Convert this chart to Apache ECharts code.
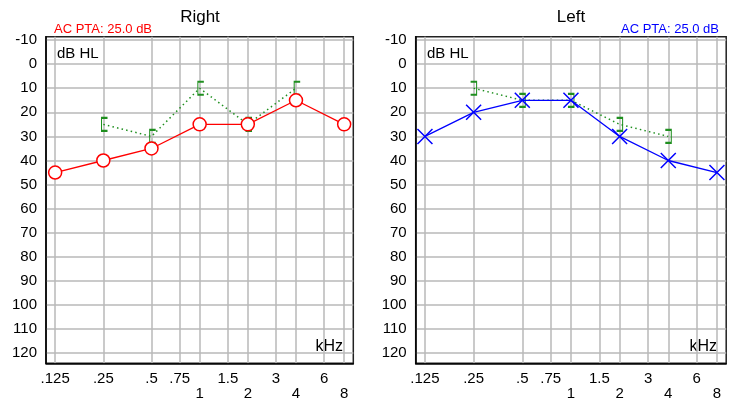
<!DOCTYPE html>
<html>
<head>
<meta charset="utf-8">
<script src="https://cdn.jsdelivr.net/npm/echarts@6/dist/echarts.min.js"></script>
<style>
  html, body { margin: 0; padding: 0; background: #fff; }
  #main { width: 750px; height: 415px; }
</style>
</head>
<body>
<div id="main"></div>
<script>
// audiogram data (kHz / dB HL)
var acFreqs = [0.125, 0.25, 0.5, 1, 2, 4, 8];
var bcFreqs = [0.25, 0.5, 1, 2, 4];
var rightAC = [45, 40, 35, 25, 25, 15, 25];
var rightBC = [25, 30, 10, 25, 10];
var leftAC = [30, 20, 15, 15, 30, 40, 45];
var leftBC = [10, 15, 15, 25, 30];

var xTickFreqs = [0.125, 0.25, 0.5, 0.75, 1, 1.5, 2, 3, 4, 6, 8];
var xTickLabels = ['.125', '.25', '.5', '.75', '1', '1.5', '2', '3', '4', '6', '8'];
var xLowerRow = ['1', '2', '4', '8'];
var yTicks = [-10, 0, 10, 20, 30, 40, 50, 60, 70, 80, 90, 100, 110, 120];

var FONT = '"Liberation Sans", Arial, sans-serif';
var GREEN = '#1f8f1f';

// frequency axis is drawn in octaves
function oct(f) { return Math.log2(f); }
function pairs(fs, vals) {
  return fs.map(function (f, i) { return [oct(f), vals[i]]; });
}

function xLabel(v) {
  var best = 0;
  xTickFreqs.forEach(function (f, i) {
    if (Math.abs(oct(f) - v) < Math.abs(oct(xTickFreqs[best]) - v)) best = i;
  });
  var t = xTickLabels[best];
  return xLowerRow.indexOf(t) >= 0 ? '\n' + t : t;
}

var gridLine = { show: true, lineStyle: { color: '#b8b8b8', width: 1.5 } };

function makeX(idx) {
  return {
    type: 'value', gridIndex: idx, min: -3.19, max: 3.19,
    axisLine: { show: true, onZero: false, lineStyle: { color: '#000', width: 1.5 } },
    axisTick: { show: false, customValues: xTickFreqs.map(oct) },
    splitLine: gridLine,
    axisLabel: {
      customValues: xTickFreqs.map(oct), formatter: xLabel,
      fontFamily: FONT, fontSize: 15, color: '#000', lineHeight: 15, margin: 8
    }
  };
}
function makeY(idx) {
  return {
    type: 'value', gridIndex: idx, inverse: true, min: -11.4, max: 124.2,
    axisLine: { show: true, onZero: false, lineStyle: { color: '#000', width: 1.5 } },
    axisTick: { show: false, customValues: yTicks },
    splitLine: gridLine,
    axisLabel: { customValues: yTicks, fontFamily: FONT, fontSize: 15, color: '#000', margin: 9 }
  };
}

var symX = 'path://M0,0L10,10M10,0L0,10';
var symOpen = 'path://M4,0L0,0L0,12L4,12';
var symClose = 'path://M0,0L4,0L4,12L0,12';

function acSeries(idx, data, color, symbol, size) {
  return {
    type: 'line', xAxisIndex: idx, yAxisIndex: idx, data: data,
    symbol: symbol, symbolSize: size, showAllSymbol: true, z: 4,
    lineStyle: { color: color, width: 1.3 },
    itemStyle: { color: symbol === 'circle' ? '#fff' : 'rgba(0,0,0,0)', borderColor: color, borderWidth: 1.5 }
  };
}
function bcSeries(idx, data, symbol, offset) {
  return {
    type: 'line', xAxisIndex: idx, yAxisIndex: idx, data: data,
    symbol: symbol, symbolSize: [6, 13], symbolOffset: [offset, 0], z: 3,
    lineStyle: { color: GREEN, width: 1.5, type: [1.5, 3.2] },
    itemStyle: { color: 'rgba(0,0,0,0)', borderColor: GREEN, borderWidth: 1.5 }
  };
}

function txt(x, y, text, size, color, align) {
  return {
    type: 'text', x: x, y: y, silent: true,
    style: { text: text, fontFamily: FONT, fontSize: size, fill: color, align: align || 'left', verticalAlign: 'middle' }
  };
}

var chart = echarts.init(document.getElementById('main'));
chart.setOption({
  animation: false,
  backgroundColor: '#fff',
  grid: [
    { left: 46, top: 36.7, width: 307.3, height: 326.6, show: true, borderColor: '#222', borderWidth: 1.5 },
    { left: 415.7, top: 36.7, width: 310.5, height: 326.6, show: true, borderColor: '#222', borderWidth: 1.5 }
  ],
  xAxis: [makeX(0), makeX(1)],
  yAxis: [makeY(0), makeY(1)],
  graphic: [
    txt(200, 17, 'Right', 17, '#000', 'center'),
    txt(571, 17, 'Left', 17, '#000', 'center'),
    txt(54, 29, 'AC PTA: 25.0 dB', 13, '#ff0000'),
    txt(719, 29, 'AC PTA: 25.0 dB', 13, '#0000ff', 'right'),
    txt(57, 54, 'dB HL', 15, '#000'),
    txt(427, 54, 'dB HL', 15, '#000'),
    txt(343, 347, 'kHz', 16, '#000', 'right'),
    txt(717, 347, 'kHz', 16, '#000', 'right')
  ],
  series: [
    bcSeries(0, pairs(bcFreqs, rightBC), symOpen, 1.2),
    acSeries(0, pairs(acFreqs, rightAC), '#ff0000', 'circle', 13),
    bcSeries(1, pairs(bcFreqs, leftBC), symClose, 0),
    acSeries(1, pairs(acFreqs, leftAC), '#0000ff', symX, 15)
  ]
});
</script>
</body>
</html>
